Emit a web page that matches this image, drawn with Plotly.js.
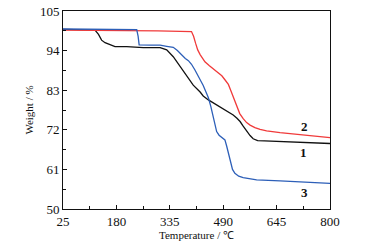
<!DOCTYPE html>
<html><head><meta charset="utf-8">
<script src="https://cdn.plot.ly/plotly-3.0.1.min.js"></script>
<style>html,body{margin:0;padding:0;background:#fff;}#chart{width:377px;height:250px;}</style>
</head><body><div id="chart"></div>
<script>
const temp1 = [25,110,118,128,137,147,160,176,210,258,307,326,345,360,374,390,403,423,432,447,470,490,505,519,530,539,548,558,568,577,590,610,655,720,800];
const weight1 = [99.9,99.9,99.7,98.5,96.9,96.2,95.7,95.1,95.1,94.8,94.8,94.2,92.3,90.2,88.6,86.0,84.4,82.5,81.4,80.3,78.9,77.8,77.0,76.1,75.2,74.3,73.0,71.6,70.4,69.5,69.0,68.9,68.7,68.5,68.2];
const temp2 = [25,100,200,300,398,404,410,416,423,430,437,450,461,475,486,495,505,512,519,528,538,548,558,568,582,597,616,655,720,800];
const weight2 = [99.7,99.7,99.6,99.5,99.3,98.0,96.0,94.2,92.9,91.8,90.9,89.8,89.0,88.0,87.0,85.9,84.6,82.9,81.1,78.5,76.5,75.1,74.0,73.3,72.6,72.1,71.7,71.2,70.6,69.8];
const temp3 = [25,150,239,243,246,280,307,326,345,357,369,380,389,398,408,420,432,440,447,454,461,466,471,478,486,495,500,505,510,517,524,535,548,587,655,720,800];
const weight3 = [100.0,100.0,99.8,98.0,95.6,95.5,95.5,95.2,94.9,94.0,92.8,91.8,91.2,90.2,88.6,86.5,84.3,82.5,80.9,78.5,75.6,73.3,71.5,70.5,69.9,69.2,67.5,65.5,63.2,61.0,59.9,59.1,58.7,58.1,57.8,57.5,57.1];
const seriesLabels = ["1","2","3"];
const labelX = [722,727,727];
const labelY = [65.6,72.8,54.7];
const xTicks = [25,180,335,490,645,800];
const yTicks = [50,61,72,83,94,105];

const font = "Liberation Serif, Times New Roman, serif";
const traces = [
  {x: temp1, y: weight1, mode:'lines', line:{color:'#111111', width:1.3}},
  {x: temp2, y: weight2, mode:'lines', line:{color:'#f03a3a', width:1.3}},
  {x: temp3, y: weight3, mode:'lines', line:{color:'#2d5fb8', width:1.3}}
];
const annotations = seriesLabels.map((t,i)=>({x:labelX[i], y:labelY[i], text:'<b>'+t+'</b>', showarrow:false, font:{family:font,size:13,color:'#111'}}));
const layout = {
  width:377, height:250,
  margin:{l:63, r:47, t:11, b:41},
  paper_bgcolor:'#fff', plot_bgcolor:'#fff',
  showlegend:false,
  font:{family:font, size:13, color:'#111'},
  xaxis:{range:[25,800], tickvals:xTicks, ticktext:xTicks.map(String), ticks:'inside', ticklen:4, tickcolor:'#111',
    showline:true, linecolor:'#111', linewidth:1, mirror:true, showgrid:false, zeroline:false,
    minor:{tickvals:[102.5,257.5,412.5,567.5,722.5], ticks:'inside', ticklen:3, tickcolor:'#111', showgrid:false},
    tickfont:{family:font,size:13}, title:{text:'Temperature / ℃', font:{family:font,size:11}, standoff:3}},
  yaxis:{range:[50,105], tickvals:yTicks, ticktext:yTicks.map(String), ticks:'inside', ticklen:4, tickcolor:'#111',
    showline:true, linecolor:'#111', linewidth:1, mirror:true, showgrid:false, zeroline:false,
    minor:{tickvals:[55.5,66.5,77.5,88.5,99.5], ticks:'inside', ticklen:3, tickcolor:'#111', showgrid:false},
    tickfont:{family:font,size:13}, title:{text:'Weight / %', font:{family:font,size:11}, standoff:4}},
  annotations: annotations
};
Plotly.newPlot('chart', traces, layout, {displayModeBar:false, staticPlot:true});
</script></body></html>
